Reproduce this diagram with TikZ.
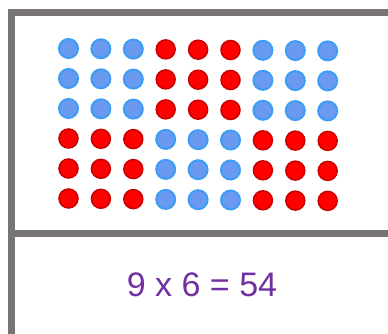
\documentclass[tikz,border=0pt]{standalone}
\usepackage{fontspec}
\setmainfont{Liberation Sans}
\definecolor{framegray}{HTML}{787473}
\definecolor{bluefill}{HTML}{6A9AF0}
\definecolor{blueedge}{HTML}{3D9CF5}
\definecolor{redfill}{HTML}{FF0000}
\definecolor{rededge}{HTML}{C80000}
\definecolor{eqpurple}{HTML}{7030A0}
\begin{document}
\begin{tikzpicture}[x=1pt,y=1pt,
  bluedot/.style={circle,minimum size=19pt,inner sep=0pt,fill=bluefill,draw=blueedge,line width=2pt},
  reddot/.style={circle,minimum size=19pt,inner sep=0pt,fill=redfill,draw=rededge,line width=1.5pt},
  frameline/.style={draw=framegray,line width=7pt}]
\useasboundingbox (0,0) rectangle (388,334);
\fill[white] (0,0) rectangle (388,334);
% frame
\draw[frameline] (11.5,-5) -- (11.5,321.5) -- (395,321.5);
\draw[frameline] (11.5,100.5) -- (395,100.5);
% dots
\foreach \r in {1,...,6}{
  \foreach \c in {1,...,9}{
    \pgfmathsetmacro{\xx}{68.5+32.4*(\c-1)}
    \pgfmathsetmacro{\yy}{334-(48.5+30*(\r-1)+0.3*(\c-1))}
    \pgfmathtruncatemacro{\isred}{(\r<4 && \c>3 && \c<7) || (\r>3 && (\c<4 || \c>6)) ? 1 : 0}
    \ifnum\isred=1
      \node[reddot] (d\r\c) at (\xx,\yy) {};
    \else
      \node[bluedot] (d\r\c) at (\xx,\yy) {};
    \fi
  }
}
\node[text=eqpurple,font=\fontsize{34}{40}\selectfont,inner sep=0pt] (eq) at (202,49.5) {9 x 6 = 54};
\end{tikzpicture}
\end{document}
